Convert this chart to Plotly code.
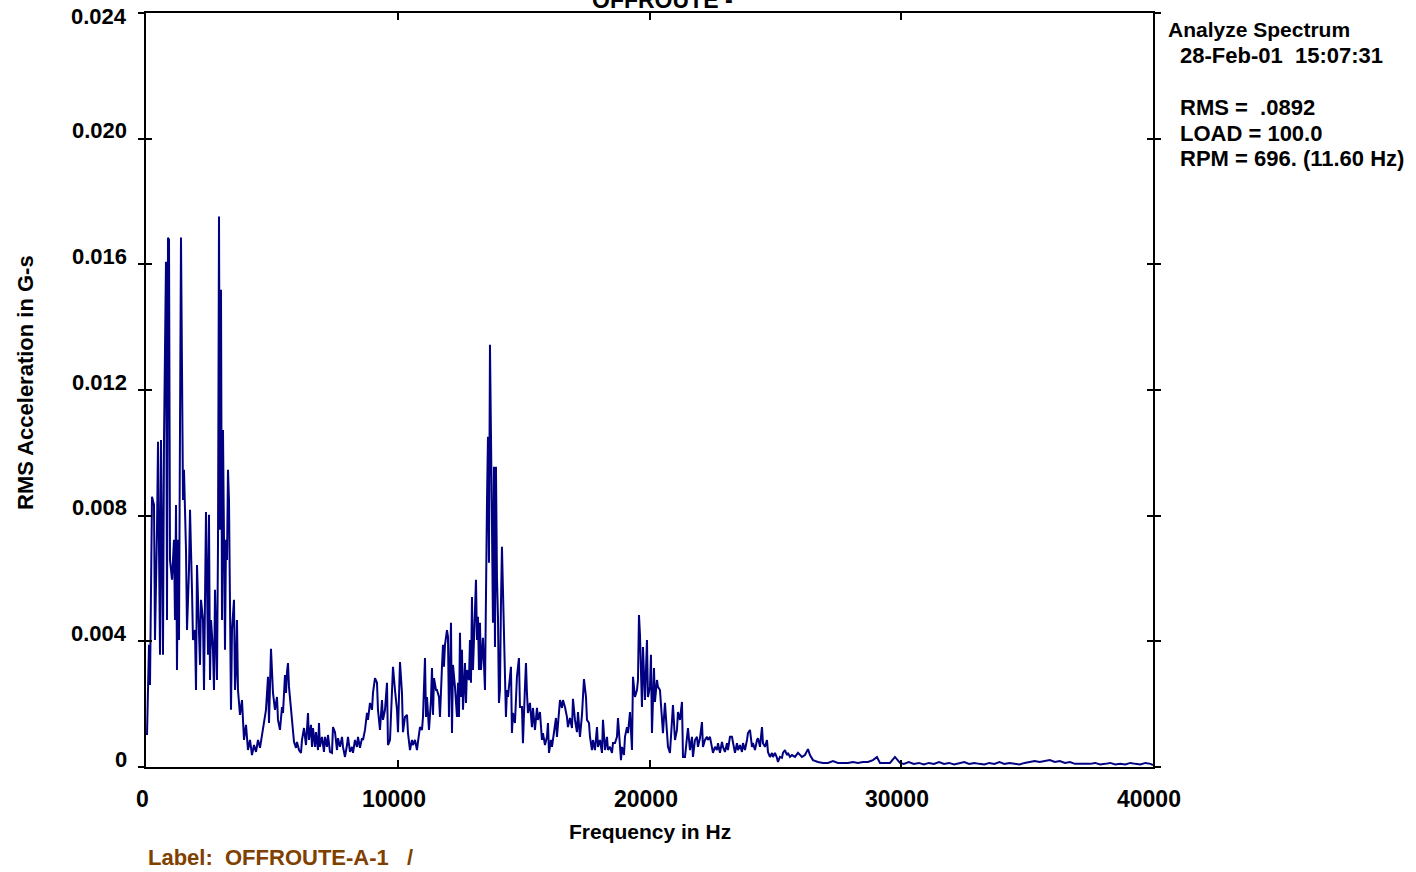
import plotly.graph_objects as go

# ---------------- data (frequency Hz, RMS acceleration G) ----------------
band_0_5k = [(40,0.00102),(119,0.00389),(159,0.00261),(238,0.00860),(318,0.00834),(357,0.00404),(437,0.00755),(477,0.01035),(556,0.00357),(596,0.01041),(675,0.00357),(715,0.01041),(794,0.01608),(834,0.00468),(874,0.01685),(914,0.01678),(953,0.00659),(1033,0.00596),(1112,0.00723),(1152,0.00468),(1192,0.00834),(1231,0.00309),(1271,0.00723),(1311,0.00404),(1350,0.01073),(1390,0.01685),(1470,0.00850),(1509,0.00946),(1589,0.00691),(1629,0.00436),(1708,0.00627),(1748,0.00819),(1827,0.00564),(1867,0.00404),(1946,0.00436),(1986,0.00245),(2026,0.00643),(2105,0.00468),(2145,0.00325),(2185,0.00532),(2264,0.00468),(2304,0.00245),(2343,0.00596),(2383,0.00812),(2463,0.00357),(2502,0.00803),(2542,0.00277),(2582,0.00468),(2661,0.00373),(2701,0.00245),(2741,0.00564),(2820,0.00277),(2860,0.00707),(2900,0.01752),(2939,0.00755),(2979,0.01519),(3019,0.00468),(3058,0.01073),(3138,0.00373),(3178,0.00723),(3217,0.00659),(3257,0.00946),(3297,0.00850),(3336,0.00596),(3376,0.00182),(3416,0.00436),(3495,0.00532),(3535,0.00245),(3575,0.00309),(3614,0.00468),(3654,0.00245),(3733,0.00166),(3813,0.00213),(3893,0.00086),(3972,0.00134),(4051,0.00054),(4131,0.00086),(4210,0.00038),(4290,0.00070),(4369,0.00048),(4449,0.00086),(4528,0.00061),(4608,0.00102),(4687,0.00150),(4766,0.00182),(4846,0.00287),(4886,0.00140),(4965,0.00376)]

band_5k_10k = [(5044,0.00236),(5124,0.00182),(5203,0.00223),(5243,0.00150),(5322,0.00118),(5402,0.00191),(5442,0.00172),(5521,0.00293),(5561,0.00236),(5601,0.00303),(5640,0.00331),(5680,0.00255),(5759,0.00191),(5839,0.00118),(5879,0.00080),(5958,0.00061),(5998,0.00080),(6077,0.00054),(6157,0.00045),(6196,0.00086),(6276,0.00124),(6355,0.00070),(6395,0.00134),(6435,0.00172),(6474,0.00086),(6554,0.00134),(6594,0.00064),(6633,0.00124),(6713,0.00064),(6752,0.00111),(6832,0.00054),(6872,0.00140),(6911,0.00064),(6991,0.00096),(7070,0.00048),(7110,0.00096),(7189,0.00064),(7229,0.00102),(7308,0.00048),(7388,0.00045),(7428,0.00127),(7507,0.00111),(7587,0.00054),(7626,0.00092),(7706,0.00064),(7785,0.00096),(7825,0.00064),(7904,0.00032),(7984,0.00070),(8023,0.00096),(8103,0.00048),(8182,0.00064),(8222,0.00045),(8301,0.00086),(8381,0.00064),(8421,0.00096),(8500,0.00061),(8580,0.00092),(8619,0.00086),(8699,0.00118),(8778,0.00172),(8818,0.00150),(8897,0.00204),(8977,0.00182),(9016,0.00236),(9096,0.00283),(9175,0.00268),(9215,0.00182),(9294,0.00118),(9374,0.00213),(9414,0.00150),(9493,0.00182),(9573,0.00268),(9612,0.00070),(9692,0.00086),(9771,0.00213),(9811,0.00319),(9890,0.00245),(9970,0.00182)]

band_10k_15k = [(10009,0.00111),(10089,0.00334),(10168,0.00236),(10208,0.00111),(10287,0.00159),(10367,0.00166),(10407,0.00108),(10486,0.00054),(10565,0.00086),(10605,0.00070),(10685,0.00086),(10764,0.00054),(10804,0.00080),(10883,0.00127),(10963,0.00118),(11002,0.00159),(11082,0.00347),(11122,0.00159),(11161,0.00223),(11241,0.00118),(11320,0.00213),(11360,0.00315),(11400,0.00166),(11439,0.00283),(11519,0.00245),(11558,0.00245),(11638,0.00223),(11678,0.00159),(11757,0.00319),(11797,0.00389),(11836,0.00319),(11876,0.00389),(11956,0.00436),(11995,0.00414),(12035,0.00159),(12115,0.00459),(12154,0.00108),(12194,0.00325),(12273,0.00255),(12353,0.00159),(12393,0.00268),(12432,0.00159),(12472,0.00427),(12512,0.00223),(12551,0.00373),(12591,0.00182),(12671,0.00331),(12710,0.00204),(12750,0.00309),(12829,0.00277),(12869,0.00404),(12909,0.00268),(12948,0.00541),(12988,0.00309),(13068,0.00500),(13107,0.00596),(13147,0.00404),(13187,0.00478),(13226,0.00309),(13266,0.00459),(13306,0.00309),(13345,0.00363),(13385,0.00411),(13465,0.00245),(13504,0.00713),(13544,0.00841),(13584,0.01051),(13623,0.00650),(13663,0.01344),(13703,0.00946),(13742,0.00777),(13782,0.00459),(13822,0.00956),(13862,0.00382),(13901,0.00956),(13941,0.00605),(13981,0.00478),(14020,0.00204),(14060,0.00245),(14100,0.00522),(14139,0.00701),(14179,0.00564),(14259,0.00331),(14298,0.00159),(14338,0.00245),(14378,0.00223),(14457,0.00287),(14497,0.00319),(14536,0.00108),(14576,0.00172),(14656,0.00140),(14695,0.00213),(14735,0.00287),(14814,0.00347),(14854,0.00191),(14934,0.00191),(14973,0.00076)]

band_15k_20k = [(15053,0.00255),(15093,0.00331),(15132,0.00236),(15172,0.00172),(15251,0.00204),(15331,0.00127),(15371,0.00188),(15450,0.00118),(15530,0.00188),(15569,0.00150),(15649,0.00175),(15728,0.00086),(15768,0.00108),(15848,0.00070),(15927,0.00096),(15967,0.00140),(16007,0.00045),(16086,0.00086),(16126,0.00064),(16205,0.00108),(16285,0.00156),(16324,0.00096),(16404,0.00159),(16444,0.00213),(16523,0.00188),(16563,0.00213),(16642,0.00191),(16722,0.00159),(16761,0.00127),(16841,0.00156),(16921,0.00124),(16960,0.00217),(17040,0.00150),(17119,0.00111),(17159,0.00175),(17238,0.00096),(17318,0.00166),(17358,0.00236),(17397,0.00280),(17477,0.00223),(17516,0.00150),(17596,0.00140),(17636,0.00096),(17715,0.00054),(17755,0.00086),(17834,0.00054),(17914,0.00127),(17953,0.00064),(18033,0.00086),(18112,0.00045),(18152,0.00150),(18232,0.00054),(18311,0.00096),(18351,0.00054),(18430,0.00064),(18510,0.00045),(18549,0.00076),(18629,0.00076),(18708,0.00096),(18748,0.00156),(18828,0.00064),(18867,0.00022),(18907,0.00064),(18986,0.00038),(19026,0.00096),(19105,0.00127),(19145,0.00108),(19225,0.00175),(19304,0.00054),(19344,0.00287),(19383,0.00255),(19423,0.00223),(19503,0.00245),(19542,0.00277),(19582,0.00484),(19622,0.00420),(19701,0.00191),(19741,0.00382),(19780,0.00299),(19820,0.00213),(19860,0.00309),(19899,0.00404),(19939,0.00223)]

band_20k_30k = [(20019,0.00255),(20058,0.00357),(20098,0.00108),(20178,0.00315),(20217,0.00207),(20297,0.00277),(20336,0.00255),(20416,0.00245),(20495,0.00127),(20535,0.00108),(20614,0.00204),(20694,0.00118),(20734,0.00064),(20813,0.00045),(20893,0.00127),(20932,0.00197),(21012,0.00086),(21091,0.00118),(21131,0.00175),(21210,0.00150),(21290,0.00207),(21330,0.00032),(21409,0.00032),(21489,0.00108),(21528,0.00124),(21608,0.00054),(21687,0.00096),(21727,0.00032),(21806,0.00086),(21886,0.00096),(21925,0.00064),(22005,0.00092),(22084,0.00143),(22124,0.00064),(22204,0.00086),(22283,0.00096),(22323,0.00086),(22402,0.00096),(22482,0.00064),(22521,0.00045),(22601,0.00064),(22680,0.00054),(22720,0.00076),(22799,0.00045),(22879,0.00080),(22918,0.00064),(22998,0.00048),(23077,0.00076),(23117,0.00054),(23196,0.00096),(23276,0.00096),(23316,0.00076),(23395,0.00045),(23475,0.00076),(23514,0.00054),(23594,0.00070),(23673,0.00048),(23713,0.00076),(23792,0.00054),(23872,0.00086),(23911,0.00108),(23991,0.00118),(24071,0.00064),(24110,0.00076),(24190,0.00054),(24269,0.00086),(24309,0.00092),(24388,0.00064),(24468,0.00127),(24507,0.00076),(24587,0.00064),(24666,0.00086),(24706,0.00048),(24785,0.00032),(24865,0.00045),(24904,0.00032),(24984,0.00045),(25063,0.00029),(25103,0.00016),(25183,0.00032),(25262,0.00029),(25302,0.00045),(25381,0.00054),(25461,0.00038),(25500,0.00045),(25580,0.00032),(25659,0.00038),(25779,0.00032),(25898,0.00045),(26056,0.00032),(26175,0.00038),(26295,0.00057),(26374,0.00038),(26493,0.00022),(26692,0.00016),(26890,0.00013),(27089,0.00013),(27288,0.00019),(27486,0.00013),(27685,0.00013),(27883,0.00013),(28082,0.00016),(28281,0.00013),(28479,0.00016),(28678,0.00016),(28876,0.00022),(29035,0.00032),(29155,0.00013),(29353,0.00013),(29552,0.00013),(29750,0.00032),(29949,0.00013)]

band_30k_40k = [(30100,0.00010),(30300,0.00016),(30500,0.00010),(30700,0.00013),(30900,0.00008),(31100,0.00013),(31300,0.00010),(31500,0.00016),(31700,0.00010),(31900,0.00013),(32100,0.00008),(32300,0.00013),(32500,0.00016),(32700,0.00010),(32900,0.00013),(33100,0.00010),(33300,0.00008),(33500,0.00013),(33700,0.00010),(33900,0.00016),(34100,0.00010),(34300,0.00013),(34500,0.00010),(34700,0.00008),(34900,0.00013),(35100,0.00016),(35300,0.00019),(35500,0.00016),(35700,0.00019),(35900,0.00022),(36100,0.00016),(36300,0.00019),(36500,0.00013),(36700,0.00016),(36900,0.00010),(37100,0.00010),(37300,0.00008),(37500,0.00010),(37700,0.00013),(37900,0.00008),(38100,0.00010),(38300,0.00013),(38500,0.00008),(38700,0.00010),(38900,0.00008),(39100,0.00013),(39300,0.00010),(39500,0.00008),(39700,0.00013),(39900,0.00010),(40000,0.00006)]

x_tick_vals = [0, 10000, 20000, 30000, 40000]
x_tick_text = ["0", "10000", "20000", "30000", "40000"]
y_tick_vals = [0, 0.004, 0.008, 0.012, 0.016, 0.020, 0.024]
y_tick_text = ["0", "0.004", "0.008", "0.012", "0.016", "0.020", "0.024"]

title_text = "OFFROUTE -"
x_title = "Frequency in Hz"
y_title = "RMS Acceleration in G-s"
label_text = "Label:\u00a0\u00a0OFFROUTE-A-1\u00a0\u00a0\u00a0/"
info_heading = "Analyze Spectrum"
info_lines = ["28-Feb-01\u00a0\u00a015:07:31",
              "",
              "RMS =\u00a0\u00a0.0892",
              "LOAD = 100.0",
              "RPM = 696. (11.60 Hz)"]

# ---------------- figure ----------------
spectrum = band_0_5k + band_5k_10k + band_10k_15k + band_15k_20k + band_20k_30k + band_30k_40k
freq = [p[0] for p in spectrum]
amp = [p[1] for p in spectrum]

FONT = "Liberation Sans, Arial, sans-serif"
W, H = 1416, 872
ML, MR, MT, MB = 146, 263, 13, 105
PW, PH = W - ML - MR, H - MT - MB

fig = go.Figure()
fig.add_trace(go.Scatter(x=freq, y=amp, mode="lines",
                         line=dict(color="#000080", width=2),
                         hoverinfo="skip", showlegend=False))
# helper (empty) trace so the inside-tick overlay axis is rendered
fig.add_trace(go.Scatter(x=[None], y=[None], yaxis="y2", mode="lines",
                         showlegend=False, hoverinfo="skip"))

axis_common = dict(showgrid=False, zeroline=False, showline=True,
                   linecolor="black", linewidth=1.5, tickcolor="black",
                   tickwidth=1.5, showticklabels=False, mirror="ticks")

fig.update_layout(
    width=W, height=H, autosize=False,
    margin=dict(l=ML, r=MR, t=MT, b=MB, pad=0),
    paper_bgcolor="white", plot_bgcolor="white",
    showlegend=False,
    xaxis=dict(range=[0, 40000], tickmode="array", tickvals=x_tick_vals,
               ticks="inside", ticklen=7, **axis_common),
    yaxis=dict(range=[0, 0.024], tickmode="array", tickvals=y_tick_vals,
               ticks="outside", ticklen=6, **axis_common),
    yaxis2=dict(range=[0, 0.024], tickmode="array", tickvals=y_tick_vals,
                overlaying="y", anchor="x", side="left",
                ticks="inside", ticklen=6, **axis_common),
)

def bold(size, color="black"):
    return dict(family=FONT, size=size, color=color, weight="bold")

ann = []
# x tick labels
for v, t in zip(x_tick_vals, x_tick_text):
    ann.append(dict(x=v, xref="x", y=0, yref="paper", text=t, showarrow=False,
                    xanchor="center", yanchor="middle", xshift=-4, yshift=-32,
                    font=bold(23)))
# y tick labels
for v, t in zip(y_tick_vals, y_tick_text):
    ys = 8 if v < max(y_tick_vals) else -3
    ann.append(dict(x=0, xref="paper", y=v, yref="y", text=t, showarrow=False,
                    xanchor="right", yanchor="middle", xshift=-17, yshift=ys,
                    font=bold(22)))
# titles
ann.append(dict(x=(590 - ML) / PW, xref="paper", y=1, yref="paper", text=title_text,
                showarrow=False, xanchor="left", yanchor="bottom", yshift=-2,
                font=bold(23)))
ann.append(dict(x=(650 - ML) / PW, xref="paper", y=(H - MB - 831) / PH, yref="paper",
                text=x_title, showarrow=False, xanchor="center", yanchor="middle",
                font=bold(21)))
ann.append(dict(x=(25 - ML) / PW, xref="paper", y=(H - MB - 383) / PH, yref="paper",
                text=y_title, showarrow=False, textangle=-90, xanchor="center",
                yanchor="middle", font=bold(22)))
ann.append(dict(x=0, xref="paper", y=(H - MB - 858) / PH, yref="paper",
                text=label_text, showarrow=False, xanchor="left", yanchor="middle",
                font=bold(22, "#804000")))
# info block on the right
ann.append(dict(x=1, xref="paper", y=(H - MB - 29) / PH, yref="paper",
                text=info_heading, showarrow=False, xanchor="left", yanchor="middle",
                xshift=13, font=bold(21)))
for i, line in enumerate(info_lines):
    if not line:
        continue
    ann.append(dict(x=1, xref="paper", y=(H - MB - (55 + 26 * i)) / PH, yref="paper",
                    text=line, showarrow=False, xanchor="left", yanchor="middle",
                    xshift=25, font=bold(22)))

fig.update_layout(annotations=ann)
fig.write_html("out.html")
